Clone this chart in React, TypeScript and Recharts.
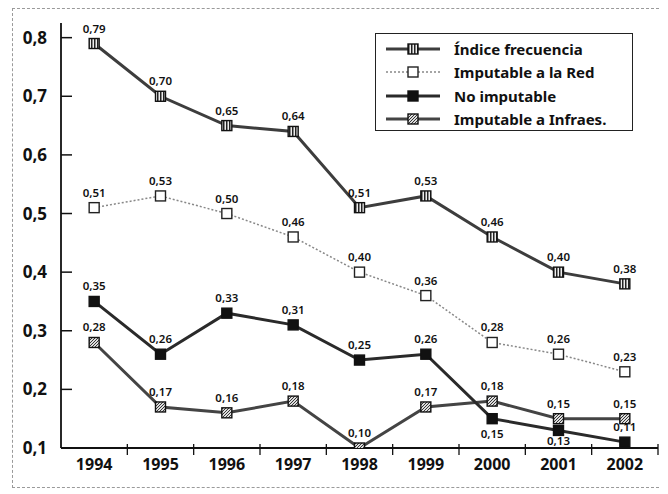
import { LineChart, Line, XAxis, YAxis, LabelList } from "recharts"

// values
const years = ['1994', '1995', '1996', '1997', '1998', '1999', '2000', '2001', '2002']
const indiceFrecuencia = [0.79, 0.70, 0.65, 0.64, 0.51, 0.53, 0.46, 0.40, 0.38]
const imputableRed = [0.51, 0.53, 0.50, 0.46, 0.40, 0.36, 0.28, 0.26, 0.23]
const noImputable = [0.35, 0.26, 0.33, 0.31, 0.25, 0.26, 0.15, 0.13, 0.11]
const imputableInfraes = [0.28, 0.17, 0.16, 0.18, 0.10, 0.17, 0.18, 0.15, 0.15]
const yTicks = [0.1, 0.2, 0.3, 0.4, 0.5, 0.6, 0.7, 0.8]

const data = years.map((year, i) => ({
  x: i + 0.5,
  year,
  indice: indiceFrecuencia[i],
  red: imputableRed[i],
  noimp: noImputable[i],
  infra: imputableInfraes[i],
}))

const W = 650
const H = 478
const MARGIN = { top: 14, right: 5, left: 0, bottom: 0 }
const Y_W = 48
const HALF_BAND = (W - MARGIN.left - MARGIN.right - Y_W) / years.length / 2
const FONT = '"Noto Sans", sans-serif'

const fmt = (v: number) => v.toFixed(2).replace('.', ',')

type Kind = 'indice' | 'red' | 'noimp' | 'infra'

const markerStyle: Record<Kind, { fill: string; stroke: string }> = {
  indice: { fill: 'url(#grid)', stroke: '#111' },
  red: { fill: '#fff', stroke: '#222' },
  noimp: { fill: '#111', stroke: '#111' },
  infra: { fill: 'url(#hatch)', stroke: '#111' },
}

const renderDot = (kind: Kind) => (p: any) => {
  const s = markerStyle[kind]
  return (
    <rect key={`${kind}-${p.index}`} x={p.cx - 5} y={p.cy - 5} width={10} height={10}
      fill={s.fill} stroke={s.stroke} strokeWidth={1.4} />
  )
}

// labels that sit under the point instead of above it (baseline offset)
const below: Record<string, Record<number, number>> = { noimp: { 6: 19, 7: 15 } }

const renderLabel = (kind: Kind) => (p: any) => {
  const off = (below[kind] || {})[p.index]
  return (
    <text key={`${kind}-l-${p.index}`} x={p.x} y={off ? p.y + off : p.y - 11}
      textAnchor="middle" fontFamily={FONT} fontSize={11.5} fontWeight={600} fill="#111">
      {fmt(p.value)}
    </text>
  )
}

function XTick(props: any) {
  const { x, y, payload } = props
  const idx = Math.round(payload.value - 0.5)
  return (
    <g>
      <line x1={x + HALF_BAND} x2={x + HALF_BAND} y1={y - 4} y2={y + 7} stroke="#111" strokeWidth={1.3} />
      <text x={x} y={y + 22} textAnchor="middle" fontFamily={FONT} fontSize={16} fontWeight={700} fill="#111">
        {years[idx]}
      </text>
    </g>
  )
}

function YTick(props: any) {
  const { x, y, payload } = props
  return (
    <g>
      <line x1={x} x2={x + 11} y1={y} y2={y} stroke="#111" strokeWidth={1.5} />
      <text x={x - 14} y={y + 6} textAnchor="end" fontFamily={FONT} fontSize={17} fontWeight={700} fill="#111">
        {fmt(payload.value).replace(/0$/, '')}
      </text>
    </g>
  )
}

const legendItems: { kind: Kind; label: string; stroke: string; dash?: string; width: number }[] = [
  { kind: 'indice', label: 'Índice frecuencia', stroke: '#3d3d3d', width: 3 },
  { kind: 'red', label: 'Imputable a la Red', stroke: '#888', dash: '2 2', width: 1.5 },
  { kind: 'noimp', label: 'No imputable', stroke: '#2a2a2a', width: 3 },
  { kind: 'infra', label: 'Imputable a Infraes.', stroke: '#444', width: 3 },
]

function PatternDefs() {
  return (
    <defs>
      <pattern id="hatch" width="3" height="3" patternUnits="userSpaceOnUse">
        <rect width="3" height="3" fill="#ddd" />
        <path d="M0,3 L3,0" stroke="#222" strokeWidth={0.9} />
      </pattern>
      <pattern id="grid" width="3" height="3" patternUnits="userSpaceOnUse">
        <rect width="3" height="3" fill="#eee" />
        <rect width="1.5" height="3" fill="#222" />
      </pattern>
    </defs>
  )
}

export default function App() {
  return (
    <div style={{ position: 'relative', width: W, height: H, marginLeft: 4, border: '1px dashed #9a9a9a', background: '#fff' }}>
      <div style={{ position: 'absolute', left: 0, top: 0 }}>
        <LineChart width={W} height={H} data={data} margin={MARGIN}>
          <PatternDefs />
          <XAxis dataKey="x" type="number" domain={[0, 9]} ticks={data.map(d => d.x)} interval={0}
            height={39} tickSize={0} tickMargin={0} tick={<XTick />} tickLine={false}
            axisLine={{ stroke: '#111', strokeWidth: 1.8 }} allowDataOverflow />
          <YAxis type="number" domain={[0.1, 0.825]} ticks={yTicks} interval={0} width={Y_W}
            tickSize={0} tickMargin={0} tick={<YTick />} tickLine={false}
            axisLine={{ stroke: '#111', strokeWidth: 1.8 }} allowDataOverflow />
          <Line dataKey="red" stroke="#888" strokeWidth={1.5} strokeDasharray="2 2"
            dot={renderDot('red')} activeDot={false} isAnimationActive={false}>
            <LabelList dataKey="red" content={renderLabel('red')} />
          </Line>
          <Line dataKey="infra" stroke="#444" strokeWidth={3}
            dot={renderDot('infra')} activeDot={false} isAnimationActive={false}>
            <LabelList dataKey="infra" content={renderLabel('infra')} />
          </Line>
          <Line dataKey="noimp" stroke="#2a2a2a" strokeWidth={3}
            dot={renderDot('noimp')} activeDot={false} isAnimationActive={false}>
            <LabelList dataKey="noimp" content={renderLabel('noimp')} />
          </Line>
          <Line dataKey="indice" stroke="#3d3d3d" strokeWidth={3}
            dot={renderDot('indice')} activeDot={false} isAnimationActive={false}>
            <LabelList dataKey="indice" content={renderLabel('indice')} />
          </Line>
        </LineChart>
      </div>
      <div style={{ position: 'absolute', left: 362, top: 24, width: 258, height: 98, border: '1.5px solid #222',
        background: '#fff', paddingTop: 3, boxSizing: 'border-box' }}>
        {legendItems.map(it => (
          <div key={it.kind} style={{ display: 'flex', alignItems: 'center', height: 23.5 }}>
            <svg width={70} height={14} style={{ marginLeft: 8 }}>
              <PatternDefs />
              <line x1={2} x2={56} y1={7} y2={7} stroke={it.stroke} strokeWidth={it.width} strokeDasharray={it.dash} />
              <rect x={24} y={2} width={10} height={10} fill={markerStyle[it.kind].fill}
                stroke={markerStyle[it.kind].stroke} strokeWidth={1.4} />
            </svg>
            <span style={{ fontFamily: FONT, fontSize: 15, fontWeight: 700, color: '#111', whiteSpace: 'nowrap' }}>
              {it.label}
            </span>
          </div>
        ))}
      </div>
    </div>
  )
}
